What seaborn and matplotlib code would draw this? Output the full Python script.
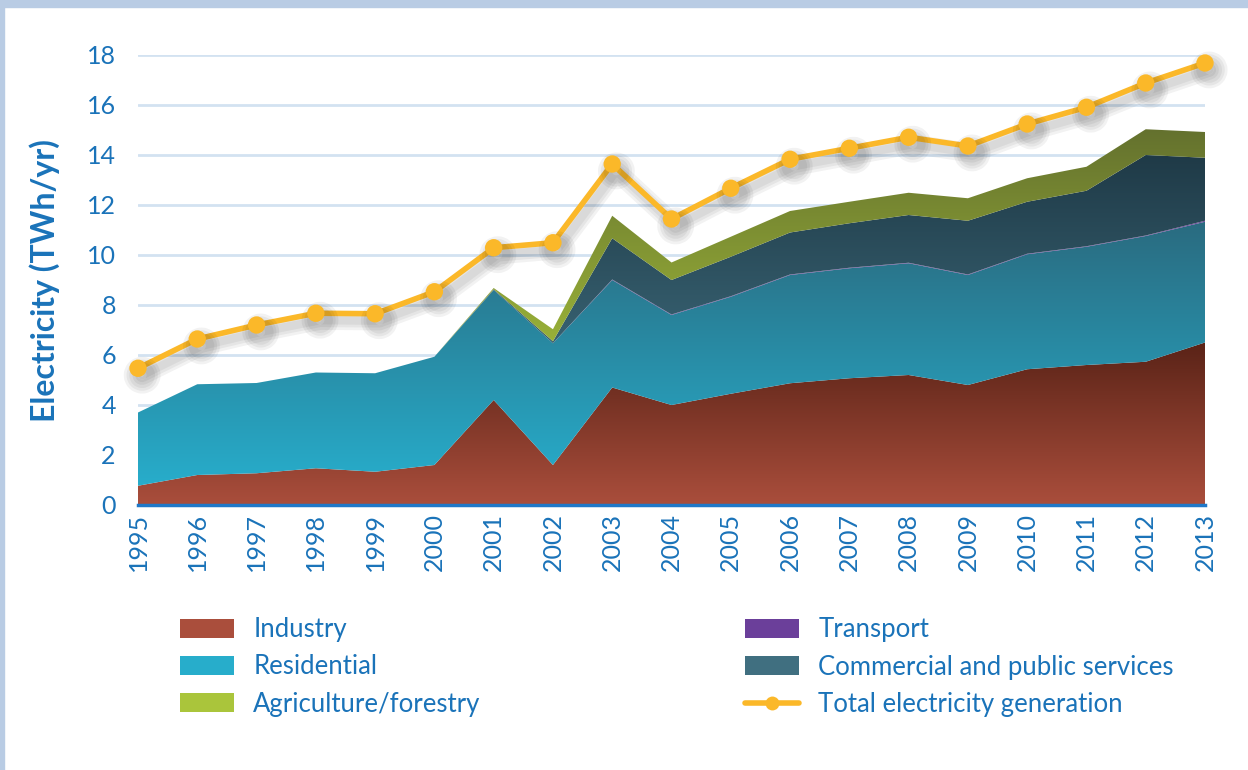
import numpy as np
import seaborn as sns
import matplotlib
matplotlib.use('Agg')
import matplotlib.pyplot as plt
import matplotlib.patheffects as pe
from matplotlib.colors import LinearSegmentedColormap
from matplotlib.patches import Rectangle, Patch
from matplotlib.lines import Line2D

# data (TWh/yr)
years = list(range(1995, 2014))
industry = [0.77, 1.20, 1.27, 1.47, 1.33, 1.60, 4.20, 1.60, 4.70, 4.00,
            4.45, 4.87, 5.07, 5.20, 4.80, 5.43, 5.60, 5.73, 6.50]
residential = [2.93, 3.63, 3.61, 3.83, 3.94, 4.33, 4.40, 4.87, 4.30, 3.60,
               3.88, 4.33, 4.40, 4.47, 4.40, 4.60, 4.73, 5.03, 4.83]
transport = [0, 0, 0, 0, 0, 0, 0, 0, 0.02, 0.02,
             0.02, 0.02, 0.02, 0.02, 0.02, 0.02, 0.02, 0.02, 0.04]
commercial = [0, 0, 0, 0, 0, 0, 0.03, 0.08, 1.65, 1.38,
              1.58, 1.68, 1.78, 1.91, 2.15, 2.08, 2.22, 3.22, 2.52]
agriculture = [0, 0, 0, 0, 0, 0, 0.05, 0.48, 0.90, 0.70,
               0.80, 0.86, 0.86, 0.89, 0.90, 0.94, 0.96, 1.03, 1.03]
total_generation = [5.47, 6.64, 7.20, 7.67, 7.65, 8.53, 10.29, 10.49, 13.64, 11.44,
                    12.67, 13.83, 14.27, 14.71, 14.36, 15.24, 15.91, 16.88, 17.68]

layer_names = ['Industry', 'Residential', 'Transport',
               'Commercial and public services', 'Agriculture/forestry']
layer_values = [industry, residential, transport, commercial, agriculture]
# (top colour, bottom colour) of each gradient
layer_colors = [('#5a2317', '#aa4e3c'),
                ('#2a6b80', '#27adcb'),
                ('#6b3f9a', '#6b3f9a'),
                ('#1f3a47', '#406f80'),
                ('#64712e', '#aac53b')]

blue = '#1a73b9'
orange = '#fbb829'

sns.set_theme(style='white')
plt.rcParams['font.family'] = ['Lato', 'DejaVu Sans']

fig = plt.figure(figsize=(12.48, 7.70), dpi=100)
ax = fig.add_axes([138 / 1248, 265 / 770, 1067 / 1248, 450 / 770])

x = np.array(years, dtype=float)


def gradient_fill(ax, x, lower, upper, top, bottom, z):
    poly = ax.fill_between(x, lower, upper, facecolor='none',
                           edgecolor='none', zorder=z)
    ymin, ymax = lower.min(), upper.max()
    if ymax - ymin < 1e-6:
        ymax = ymin + 0.01
    cmap = LinearSegmentedColormap.from_list('g', [bottom, top])
    grad = np.linspace(0, 1, 256).reshape(-1, 1)
    im = ax.imshow(grad, extent=[x.min(), x.max(), ymin, ymax], origin='lower',
                   aspect='auto', cmap=cmap, zorder=z, interpolation='bilinear')
    im.set_clip_path(poly.get_paths()[0], transform=ax.transData)


base = np.zeros(len(years))
for i, (vals, (top, bottom)) in enumerate(zip(layer_values, layer_colors)):
    upper = base + np.array(vals)
    gradient_fill(ax, x, base, upper, top, bottom, 2 + i * 0.1)
    base = upper

# soft drop shadow: a few wide, faint copies
shadow = [pe.SimpleLineShadow(offset=(3, -5), shadow_color='black',
                              alpha=0.05, linewidth=w) for w in (14, 10, 6)]
sns.lineplot(x=years, y=total_generation, ax=ax, color=orange, linewidth=4,
             marker='o', markersize=12.5, markeredgewidth=0, zorder=10,
             clip_on=False, legend=False,
             path_effects=shadow + [pe.Normal()])

ax.set_xlim(1995, 2013)
ax.set_ylim(0, 18)
ax.set_xticks(years)
ax.set_xticklabels([str(y) for y in years], rotation=90)
ax.set_yticks(range(0, 19, 2))
ax.tick_params(axis='x', colors=blue, labelsize=18, pad=6, length=0)
ax.tick_params(axis='y', colors=blue, labelsize=18, pad=16, length=0)
ax.grid(axis='y', color='#d3e2f1', linewidth=2)
ax.grid(axis='x', visible=False)
ax.set_axisbelow(True)
for side in ['top', 'right', 'left']:
    ax.spines[side].set_visible(False)
ax.spines['bottom'].set_color('#1f78c8')
ax.spines['bottom'].set_linewidth(2.5)
ax.spines['bottom'].set_zorder(5)

fig.text(45 / 1248, 1 - 281 / 770, 'Electricity (TWh/yr)', rotation=90,
         ha='center', va='center', fontsize=23, fontweight='bold', color=blue)

# legend
handles = [Patch(facecolor=layer_colors[0][1], edgecolor='none'),
           Patch(facecolor=layer_colors[1][1], edgecolor='none'),
           Patch(facecolor=layer_colors[4][1], edgecolor='none')]
labels = ['Industry', 'Residential', 'Agriculture/forestry']
handles2 = [Patch(facecolor=layer_colors[2][1], edgecolor='none'),
            Patch(facecolor=layer_colors[3][1], edgecolor='none'),
            Line2D([], [], color=orange, linewidth=4, marker='o', markersize=10,
                   markeredgewidth=0)]
labels2 = ['Transport', 'Commercial and public services', 'Total electricity generation']
leg_kw = dict(loc='center left', frameon=False, fontsize=18.5, borderpad=0,
              borderaxespad=0, handlelength=2.1, handleheight=0.75,
              handletextpad=0.75, labelspacing=0.48, labelcolor=blue)
leg1 = fig.legend(handles, labels, bbox_to_anchor=(180 / 1248, 1 - 667 / 770), **leg_kw)
leg2 = fig.legend(handles2, labels2, bbox_to_anchor=(745 / 1248, 1 - 667 / 770), **leg_kw)

# light blue frame of the reference
fig.patches.append(Rectangle((0, 1 - 7 / 770), 1, 7 / 770, transform=fig.transFigure,
                             color='#b9cce4', zorder=0))
fig.patches.append(Rectangle((0, 0), 4 / 1248, 1, transform=fig.transFigure,
                             color='#b9cce4', zorder=0))

fig.savefig('out.png', dpi=100)
